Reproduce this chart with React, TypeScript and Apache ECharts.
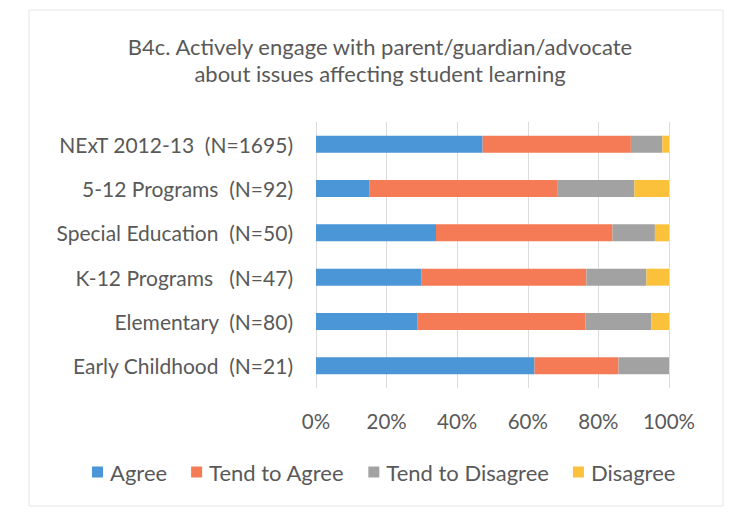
import React, { useEffect, useRef } from "react";
import * as echarts from "echarts";

const categories = [
  "NExT 2012-13  (N=1695)",
  "5-12 Programs  (N=92)",
  "Special Education  (N=50)",
  "K-12 Programs   (N=47)",
  "Elementary  (N=80)",
  "Early Childhood  (N=21)",
];
const seriesNames = ["Agree", "Tend to Agree", "Tend to Disagree", "Disagree"];
const agree = [47.2, 15.2, 34.0, 29.8, 28.8, 61.9];
const tendAgree = [42.0, 53.3, 50.0, 46.8, 47.5, 23.8];
const tendDisagree = [8.9, 21.7, 12.0, 17.0, 18.7, 14.3];
const disagree = [1.9, 9.8, 4.0, 6.4, 5.0, 0.0];
const xTicks = [0, 20, 40, 60, 80, 100];
const colors = ["#4a96d6", "#f47b55", "#a2a2a2", "#fbc13a"];
const titleText = "B4c. Actively engage with parent/guardian/advocate\nabout issues affecting student learning";

export default function App() {
  const ref = useRef<HTMLDivElement>(null);
  useEffect(() => {
    if (!ref.current) return;
    const chart = echarts.init(ref.current, null, { renderer: "svg" });
    const font = "Lato, 'Noto Sans', sans-serif";
    const data = [agree, tendAgree, tendDisagree, disagree];
    chart.setOption({
      animation: false,
      backgroundColor: "#ffffff",
      textStyle: { fontFamily: font },
      title: {
        text: titleText,
        left: 375,
        top: 28,
        textAlign: "center",
        textStyle: { fontFamily: font, fontSize: 22, fontWeight: "normal", color: "#595959", lineHeight: 27 },
      },
      graphic: [
        {
          type: "rect",
          shape: { x: 29, y: 10, width: 694, height: 496 },
          style: { fill: "none", stroke: "#e6e6e6", lineWidth: 1 },
          silent: true,
        },
      ],
      legend: {
        data: seriesNames,
        top: 456,
        left: 87,
        itemWidth: 11,
        itemHeight: 11,
        itemGap: 24,
        icon: "rect",
        textStyle: { fontFamily: font, fontSize: 22, color: "#595959", padding: [0, 0, 0, 2] },
      },
      grid: { left: 316, right: 67, top: 122, height: 266 },
      xAxis: {
        type: "value",
        min: 0,
        max: 100,
        interval: 20,
        axisLine: { show: false },
        axisTick: { show: false },
        splitLine: { show: true, lineStyle: { color: "#dcdcdc", width: 1 } },
        axisLabel: {
          formatter: (v: number) => (xTicks.includes(v) ? v + "%" : ""),
          fontFamily: font,
          fontSize: 20.5,
          color: "#595959",
          margin: 22,
        },
      },
      yAxis: {
        type: "category",
        data: categories,
        inverse: true,
        axisLine: { show: false },
        axisTick: { show: false },
        axisLabel: { fontFamily: font, fontSize: 21, color: "#595959", margin: 23 },
      },
      series: seriesNames.map((name, i) => ({
        name,
        type: "bar",
        stack: "total",
        barWidth: 17,
        itemStyle: { color: colors[i] },
        data: data[i],
      })),
    });
    return () => chart.dispose();
  }, []);
  return <div ref={ref} style={{ width: 736, height: 512, position: "absolute", left: 0, top: 0 }} />;
}
